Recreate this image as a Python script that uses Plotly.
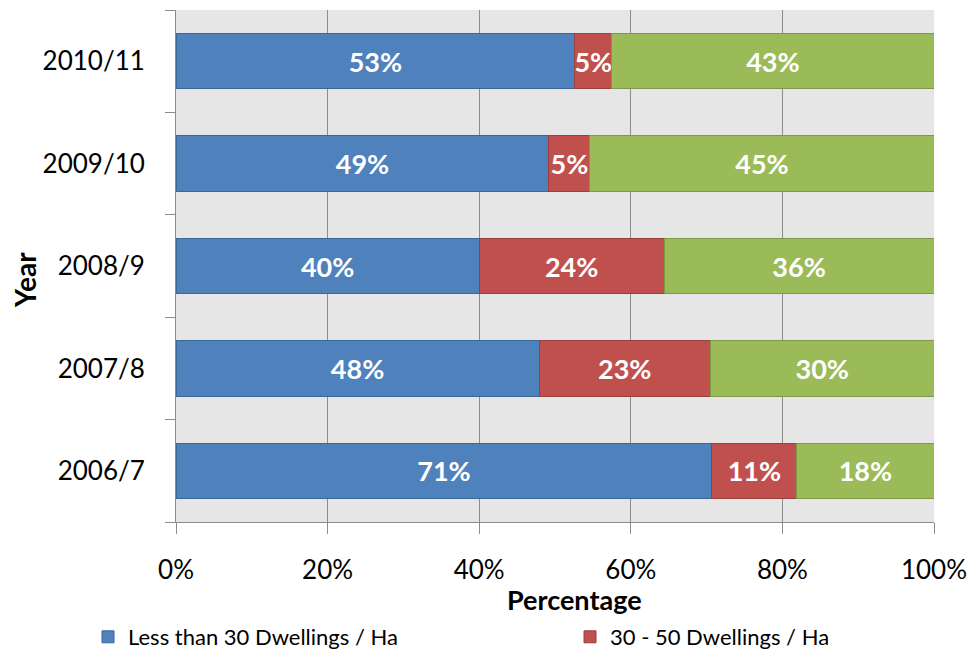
import plotly.graph_objects as go

years = ["2006/7", "2007/8", "2008/9", "2009/10", "2010/11"]
less_30 = [70.7, 47.9, 40.0, 49.2, 52.6]
mid_30_50 = [11.2, 22.6, 24.4, 5.4, 4.9]
over_50 = [18.1, 29.5, 35.6, 45.4, 42.5]
series_names = ["Less than 30 Dwellings / Ha", "30 - 50 Dwellings / Ha", "More than 50 Dwellings / Ha"]
x_ticks = [0, 20, 40, 60, 80, 100]
x_tick_labels = ["0%", "20%", "40%", "60%", "80%", "100%"]

FONT = "Lato, Carlito, 'Open Sans', sans-serif"
fills = ["#4F81BD", "#C0504D", "#9BBB59"]
edges = ["#3C6797", "#9A3F3C", "#7E9A47"]
legends = ["legend", "legend2", "legend3"]

L, R, T, B = 176, 42, 10, 131
W, H = 976, 653
PW, PH = W - L - R, H - T - B

def label(v):
    return f"<b>{int(v + 0.5)}%</b>"

def px_x(p):
    return (p - L) / PW

def px_y(p):
    return (H - B - p) / PH

fig = go.Figure()
for i, (name, vals) in enumerate(zip(series_names, [less_30, mid_30_50, over_50])):
    fig.add_trace(go.Bar(
        y=years, x=vals, name=name, orientation="h",
        marker=dict(color=fills[i], line=dict(color=edges[i], width=1)),
        text=[label(v) for v in vals], textposition="inside",
        insidetextanchor="middle", textangle=0, constraintext="none",
        cliponaxis=False,
        textfont=dict(color="white", size=27, family=FONT),
        showlegend=(i < 2), legend=legends[i],
    ))

leg_common = dict(orientation="h", yanchor="middle", xanchor="left",
                  font=dict(size=22, family=FONT), bgcolor="rgba(0,0,0,0)")

fig.update_layout(
    barmode="stack", bargap=0.46,
    width=W, height=H,
    margin=dict(l=L, r=R, t=T, b=B, autoexpand=False),
    paper_bgcolor="white", plot_bgcolor="#E6E6E6",
    font=dict(family=FONT, size=22, color="black"),
    xaxis=dict(
        range=[0, 100], tickvals=x_ticks, ticktext=x_tick_labels,
        showgrid=True, gridcolor="#8C8C8C", gridwidth=1,
        ticks="outside", ticklen=11, tickcolor="#8C8C8C",
        showline=True, linecolor="#8C8C8C", zeroline=False,
        ticklabelstandoff=14,
        tickfont=dict(size=26, family=FONT),
    ),
    yaxis=dict(
        categoryorder="array", categoryarray=years,
        tickson="boundaries", ticks="outside", ticklen=10, tickcolor="#8C8C8C",
        showline=True, linecolor="#8C8C8C", showgrid=False,
        ticklabelstandoff=25,
        tickfont=dict(size=26, family=FONT),
    ),
    legend=dict(x=px_x(88), y=px_y(637), **leg_common),
    legend2=dict(x=px_x(570), y=px_y(637), **leg_common),
    legend3=dict(x=1.5, y=px_y(637), visible=False, **leg_common),
    annotations=[
        dict(text="<b>Percentage</b>", x=px_x(574), xref="paper", y=px_y(599), yref="paper",
             xanchor="center", yanchor="middle",
             showarrow=False, font=dict(size=27, family=FONT)),
        dict(text="<b>Year</b>", x=px_x(25), xref="paper", y=px_y(280), yref="paper",
             xanchor="center", yanchor="middle",
             textangle=-90, showarrow=False, font=dict(size=28, family=FONT)),
    ],
)

fig.write_html("out.html")
